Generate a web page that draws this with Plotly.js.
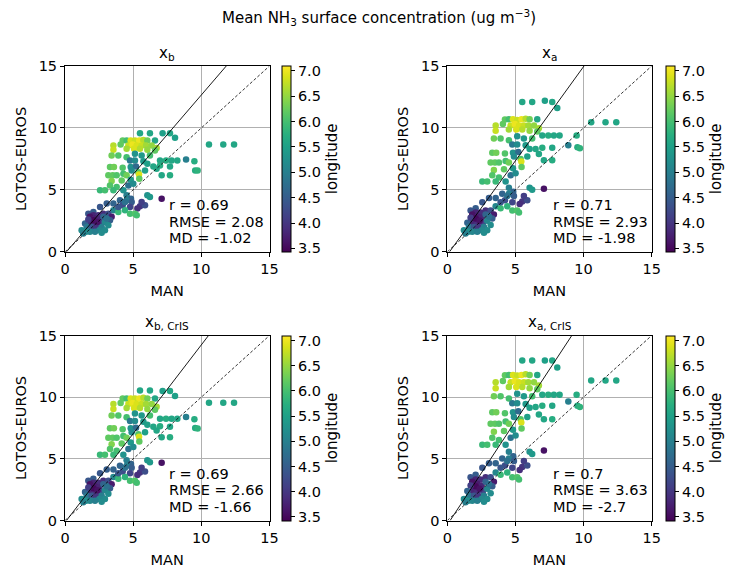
<!DOCTYPE html>
<html>
<head>
<meta charset="utf-8">
<script src="https://cdn.plot.ly/plotly-3.0.1.min.js"></script>
<style>html,body{margin:0;padding:0;background:#fff;}#chart{width:735px;height:571px;}</style>
</head>
<body>
<div id="chart"></div>
<script>
// MAN observations (x), shared by all four panels
const man = [5.5,6.23,7.16,7.7,8.07, 4.23,4.52,4.82,5.13,5.45, 5.75,6.04,6.6,3.55,4.08, 4.65,4.96,5.26,5.62,5.94,
  6.36,6.72,3.55,4.52,5.06, 5.5,6.04,6.6,10.56,11.61, 12.4,3.91,3.42,4.52,5.13, 5.62,6.23,4.77,5.13,5.75,
  6.97,7.41,7.82,8.24,8.88, 9.49,3.3,3.59,4.23,4.82, 5.21,6.04,6.48,6.97,7.7, 4.89,5.38,5.87,6.72,9.55,
  9.73,3.18,3.5,3.79,4.28, 4.52,5.43,7.09,7.7,3.42, 4.16,4.82,5.45,4.65,5.01, 3.3,3.79,2.57,2.93,3.55,
  4.28,4.52,4.84,6.04,6.23, 7.09,4.03,4.52,4.89,4.23, 4.77,5.5,5.87,5.31,3.06, 2.57,2.08,3.55,3.91,4.4,
  4.77,5.13,5.26,1.71,2.08, 2.44,2.81,3.18,3.42,3.3, 1.83,2.2,2.52,1.88,2.2, 2.62,2.93,3.18,1.47,1.59,
  1.96,2.27,2.69,2.93,2.52, 1.22,1.54,1.83,2.2,2.69, 1.34,2.08,2.37,1.71,2.81, 3.06,3.55,3.91,4.4,5.62];
// station longitude (colour)
const lon = [5.6,5.6,5.5,5.6,5.5, 6.2,6.0,6.9,6.8,7.0, 6.7,6.3,5.6,6.7,6.2, 6.8,7.0,6.9,6.8,6.6,
  6.5,6.6,6.8,6.6,6.9, 6.7,6.5,6.2,5.6,5.6, 5.6,6.1,6.3,6.0,5.3, 5.4,6.0,4.9,5.2,5.4,
  5.6,5.7,5.6,5.6,5.0, 5.7,6.2,6.3,6.1,5.3, 4.7,5.5,5.6,5.7,5.6, 5.2,6.1,5.5,5.6,5.7,
  5.8,6.2,6.2,6.1,6.0, 6.3,6.9,5.6,5.7,6.4, 6.2,5.4,6.2,4.8,5.2, 6.1,6.0,5.9,6.0,5.9,
  5.3,5.0,4.6,5.3,5.4, 3.6,4.6,5.0,4.5,4.3, 4.2,4.0,4.3,3.9,4.5, 4.4,4.5,5.1,5.9,5.8,
  6.0,6.1,6.0,4.4,3.8, 3.9,3.9,4.3,3.7,4.5, 3.6,3.7,3.8,3.8,3.9, 4.2,5.1,5.2,4.6,4.9,
  4.4,4.0,5.0,5.2,5.1, 5.2,5.3,5.1,5.0,5.2, 5.0,3.5,3.6,4.1,4.6, 4.8,4.6,4.4,4.8,4.1];
// LOTOS-EUROS values per panel (y)
const lotosXb = [9.57,9.57,9.57,9.57,9.2, 8.98,8.98,8.98,8.98,8.98, 9.03,8.98,8.98,8.58,8.66, 8.58,8.66,8.58,8.58,8.58,
  8.58,8.39,8.23,8.31,8.31, 8.31,8.23,8.18,8.66,8.66, 8.66,7.77,7.77,7.64,7.91, 7.77,7.77,7.37,7.37,7.32,
  7.37,7.37,7.37,7.37,7.45, 7.32,6.84,6.84,6.78,6.84, 6.89,7.1,6.89,6.97,6.89, 6.57,6.43,6.57,6.7,6.57,
  6.57,6.17,6.17,6.17,6.3, 6.17,6.25,6.17,6.17,5.71, 5.76,5.82,5.9,5.36,5.5, 5.36,5.23,4.96,4.96,4.96,
  4.96,4.56,4.29,4.56,4.42, 4.29,4.16,4.16,4.02,3.75, 3.62,3.67,3.75,3.49,3.89, 3.62,3.22,3.35,3.22,3.35,
  3.08,3.08,2.95,3.08,2.95, 2.95,3.08,3.08,2.82,2.55, 2.82,2.68,2.6,2.28,2.28, 2.28,2.41,2.14,2.28,2.01,
  2.01,2.01,2.01,1.74,1.74, 1.74,1.61,1.61,1.61,1.53, 1.47,2.55,2.41,2.6,2.82, 2.68,3.89,3.62,4.02,4.02];
const lotosXa = [12.1,12.1,12.2,12.1,11.6, 10.68,10.7,10.7,10.65,10.7, 10.75,10.7,10.7,10.2,10.31, 10.2,10.31,10.2,10.2,10.2,
  10.2,9.97,9.77,9.87,9.87, 9.87,9.77,9.71,10.46,10.46, 10.46,9.15,9.15,9.0,9.33, 9.15,9.15,8.66,8.66,8.6,
  9.38,9.38,9.38,9.38,8.6, 9.38,8.0,8.0,7.93,8.0, 8.06,8.3,8.3,8.4,8.4, 7.7,7.5,7.7,7.9,8.45,
  8.35,7.2,7.2,7.2,7.33, 7.2,7.3,7.4,7.4,6.6, 6.66,6.74,6.84,6.17,6.34, 6.17,6.0,5.67,5.67,5.67,
  5.67,5.17,4.84,5.17,5.0, 5.09,4.68,4.68,4.5,4.17, 4.01,4.07,4.17,3.85,4.34, 4.01,3.51,3.67,3.51,3.67,
  3.34,3.34,3.18,3.34,3.18, 3.18,3.34,3.34,3.02,2.68, 3.02,2.84,2.74,2.35,2.35, 2.35,2.51,2.17,2.35,2.01,
  2.01,2.01,2.01,1.74,1.74, 1.74,1.61,1.61,1.61,1.53, 1.47,2.68,2.51,2.74,3.02, 2.84,4.34,4.01,4.5,4.5];
const lotosXbCris = [10.55,10.55,10.5,10.5,10.1, 9.89,9.9,9.9,9.9,9.9, 9.95,9.9,9.9,9.44,9.53, 9.44,9.53,9.44,9.44,9.44,
  9.44,9.22,9.04,9.13,9.13, 9.13,9.04,8.98,9.54,9.54, 9.54,8.52,8.52,8.37,8.68, 8.52,8.52,8.07,8.07,8.01,
  8.24,8.24,8.24,8.24,8.4, 8.2,7.47,7.47,7.4,7.47, 7.53,7.76,7.6,7.65,7.6, 7.16,7.0,7.16,7.3,7.5,
  7.45,6.7,6.7,6.7,6.86, 6.7,6.8,6.75,6.75,6.19, 6.25,6.32,6.41,5.8,5.96, 5.8,5.65,5.34,5.34,5.34,
  5.34,4.89,4.59,4.89,4.73, 4.68,4.44,4.44,4.28,3.98, 3.83,3.89,3.98,3.68,4.14, 3.83,3.38,3.53,3.38,3.53,
  3.22,3.22,3.07,3.22,3.07, 3.07,3.22,3.22,2.93,2.62, 2.93,2.77,2.68,2.32,2.32, 2.32,2.46,2.16,2.32,2.01,
  2.01,2.01,2.01,1.74,1.74, 1.74,1.61,1.61,1.61,1.53, 1.47,2.62,2.46,2.68,2.93, 2.77,4.14,3.83,4.28,4.28];
const lotosXaCris = [12.97,12.97,12.97,12.97,12.4, 11.77,11.8,11.8,11.75,11.8, 11.85,11.8,11.8,11.2,11.32, 11.2,11.32,11.2,11.2,11.2,
  11.2,10.95,10.72,10.83,10.83, 10.83,10.72,10.65,11.35,11.35, 11.35,10.08,10.08,9.9,10.27, 10.08,10.08,9.5,9.5,9.45,
  10.2,10.2,10.2,10.2,9.65, 10.2,8.78,8.78,8.69,8.78, 8.86,9.14,9.2,9.3,9.3, 8.4,8.2,8.4,8.6,9.3,
  9.2,7.84,7.84,7.84,8.02, 7.84,7.95,8.2,8.2,7.19, 7.26,7.35,7.46,6.7,6.9, 6.7,6.52,6.14,6.14,6.14,
  6.14,5.58,5.2,5.58,5.39, 5.68,5.02,5.02,4.83,4.45, 4.27,4.34,4.45,4.09,4.65, 4.27,3.71,3.89,3.71,3.89,
  3.51,3.51,3.33,3.51,3.33, 3.33,3.51,3.51,3.15,2.77, 3.15,2.95,2.84,2.39,2.39, 2.39,2.57,2.2,2.39,2.01,
  2.01,2.01,2.01,1.74,1.74, 1.74,1.61,1.61,1.61,1.53, 1.47,2.77,2.57,2.84,3.15, 2.95,4.65,4.27,4.83,4.83];

const panelTitles = ['x<sub>b</sub>', 'x<sub>a</sub>', 'x<sub>b, CrIS</sub>', 'x<sub>a, CrIS</sub>'];
const statR = ['0.69', '0.71', '0.69', '0.7'];
const statRMSE = ['2.08', '2.93', '2.66', '3.63'];
const statMD = ['-1.02', '-1.98', '-1.66', '-2.7'];
const fitSlope = [1.28, 1.52, 1.44, 1.68];
const fitIntercept = [-0.14, -0.25, -0.16, -0.35];
const cbTicks = [3.5, 4.0, 4.5, 5.0, 5.5, 6.0, 6.5, 7.0];

const W = 735, H = 571;
const FONT = 'DejaVu Sans, Verdana, sans-serif';
const ys = [lotosXb, lotosXa, lotosXbCris, lotosXaCris];
// pixel geometry of each panel: [left, right, top, bottom]
const geo = [[65, 269.5, 66, 251.8], [447.3, 651.7, 66, 251.8], [65, 269.5, 335.5, 520.5], [447.3, 651.7, 335.5, 520.5]];
const cbLeft = [282, 666, 282, 666];

const traces = [];
const layout = {
  width: W, height: H, margin: {l: 0, r: 0, t: 0, b: 0},
  paper_bgcolor: '#fff', plot_bgcolor: '#fff', showlegend: false,
  font: {family: FONT, size: 14.5, color: '#000'},
  annotations: []
};

for (let i = 0; i < 4; i++) {
  const g = geo[i];
  const sfx = i === 0 ? '' : String(i + 1);
  const xa = 'x' + sfx, ya = 'y' + sfx;
  const yDom = [1 - g[3] / H, 1 - g[2] / H];
  traces.push({
    type: 'scatter', mode: 'markers', x: man, y: ys[i], xaxis: xa, yaxis: ya,
    marker: {
      size: 6.5, color: lon, colorscale: 'Viridis', cmin: 3.43, cmax: 7.1,
      line: {width: 0},
      showscale: true,
      colorbar: {
        x: cbLeft[i] / W, xanchor: 'left', xpad: 0, ypad: 0,
        y: (yDom[0] + yDom[1]) / 2, yanchor: 'middle', len: yDom[1] - yDom[0], lenmode: 'fraction',
        thickness: 9, thicknessmode: 'pixels',
        outlinewidth: 1, outlinecolor: '#000',
        ticks: 'outside', ticklen: 4, tickwidth: 1, tickcolor: '#000',
        tickvals: cbTicks, ticktext: cbTicks.map(v => v.toFixed(1)),
        tickfont: {family: FONT, size: 14.5, color: '#000'},
        title: {text: 'longitude', side: 'right', font: {family: FONT, size: 15, color: '#000'}}
      }
    },
    hoverinfo: 'x+y'
  });
  // 1:1 dashed line
  traces.push({type: 'scatter', mode: 'lines', x: [0, 15], y: [0, 15], xaxis: xa, yaxis: ya,
    line: {color: '#000', width: 0.8, dash: '3px,2px'}, hoverinfo: 'skip'});
  // fitted solid line
  const m = fitSlope[i], b = fitIntercept[i];
  const x0 = Math.max(0, -b / m), x1 = (15 - b) / m;
  traces.push({type: 'scatter', mode: 'lines', x: [x0, x1], y: [m * x0 + b, 15], xaxis: xa, yaxis: ya,
    line: {color: '#000', width: 0.9}, hoverinfo: 'skip'});

  const axCommon = {
    range: [0, 15], tickvals: [0, 5, 10, 15], ticktext: ['0', '5', '10', '15'],
    showline: true, mirror: true, linecolor: '#000', linewidth: 1,
    showgrid: true, gridcolor: '#b0b0b0', gridwidth: 1, zeroline: false,
    ticks: 'outside', ticklen: 4, tickwidth: 1, tickcolor: '#000',
    tickfont: {family: FONT, size: 14.5, color: '#000'}, fixedrange: true
  };
  layout['xaxis' + sfx] = Object.assign({}, axCommon, {
    domain: [g[0] / W, g[1] / W], anchor: ya,
    title: {text: 'MAN', standoff: 9, font: {family: FONT, size: 14.5, color: '#000'}}
  });
  layout['yaxis' + sfx] = Object.assign({}, axCommon, {
    domain: yDom, anchor: xa,
    title: {text: 'LOTOS-EUROS', standoff: 8, font: {family: FONT, size: 14.5, color: '#000'}}
  });
  // panel title
  layout.annotations.push({xref: 'paper', yref: 'paper', x: (g[0] + g[1]) / 2 / W, y: 1 - (g[2] - 13) / H,
    xanchor: 'center', yanchor: 'middle', showarrow: false, text: panelTitles[i],
    font: {family: FONT, size: 15, color: '#000'}});
  // statistics text
  const sx = (i % 2 === 0 ? 167 : 551) / W;
  const sy = i < 2 ? [204.5, 221.5, 238] : [474, 490, 506.5];
  const lines = ['r = ' + statR[i], 'RMSE = ' + statRMSE[i], 'MD = ' + statMD[i]];
  for (let k = 0; k < 3; k++) {
    layout.annotations.push({xref: 'paper', yref: 'paper', x: sx, y: 1 - sy[k] / H,
      xanchor: 'left', yanchor: 'middle', showarrow: false, text: lines[k],
      font: {family: FONT, size: 14.5, color: '#000'}});
  }
}
layout.annotations.push({xref: 'paper', yref: 'paper', x: 379 / W, y: 1 - 18 / H,
  xanchor: 'center', yanchor: 'middle', showarrow: false,
  text: 'Mean NH<sub>3</sub> surface concentration (ug m<sup>\u22123</sup>)',
  font: {family: FONT, size: 15, color: '#000'}});

Plotly.newPlot('chart', traces, layout, {staticPlot: true, displayModeBar: false});
</script>
</body>
</html>
